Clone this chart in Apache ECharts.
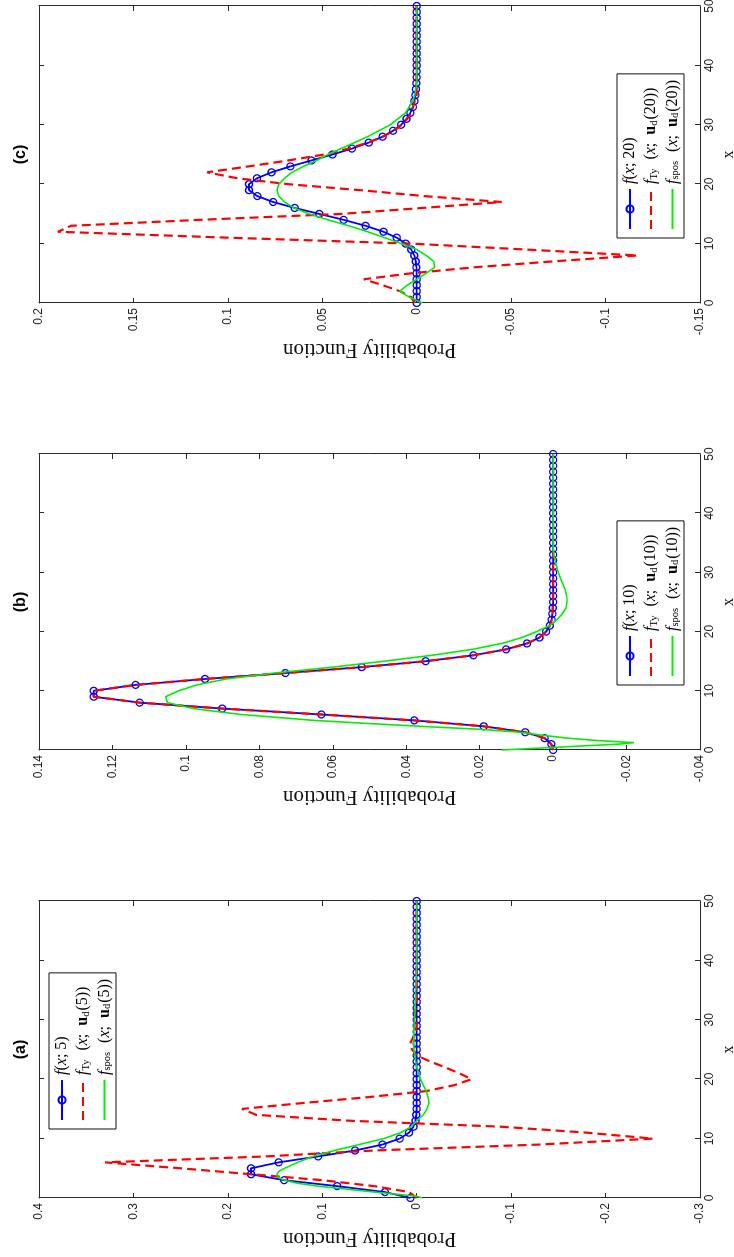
<!DOCTYPE html>
<html><head><meta charset="utf-8">
<style>
html,body{margin:0;padding:0;background:#fff;overflow:hidden;width:734px;height:1257px;}
#chart{position:absolute;left:0;top:0;width:1257px;height:734px;transform-origin:0 0;transform:translateY(1257px) rotate(-90deg);background:#fff;}
</style>
<script src="https://cdn.jsdelivr.net/npm/echarts@6/dist/echarts.min.js"></script>
</head><body><div id="chart"></div>
<script>
// ---------------- data ----------------
const panelTitles = ['(a)', '(b)', '(c)'];
const lambdas = ['5', '10', '20'];
const xName = 'x';
const yName = 'Probability Function';
const yMins = [-0.3, -0.04, -0.15];
const yMaxs = [0.4, 0.14, 0.2];
const yIntervals = [0.1, 0.02, 0.05];
const xMin = 0, xMax = 50, xInterval = 10;

// f(x; n) at x = 0..50
const blue5 = [0.0067,0.0337,0.0842,0.1404,0.1755,0.1755,0.1462,0.1044,0.0653,0.0363,0.0181,0.0082,0.0034,0.0013,0.0005,0.0002,
  0,0,0,0,0,0,0,0,0,0,0,0,0,0,0,0,0,0,0,0,0,0,0,0,0,0,0,0,0,0,0,0,0,0,0];
const blue10 = [0.0000,0.0005,0.0023,0.0076,0.0189,0.0378,0.0631,0.0901,0.1126,0.1251,0.1251,0.1137,0.0948,0.0729,0.0521,0.0347,
  0.0217,0.0128,0.0071,0.0037,0.0019,0.0009,0.0004,0.0002,0.0001,
  0,0,0,0,0,0,0,0,0,0,0,0,0,0,0,0,0,0,0,0,0,0,0,0,0,0];
const blue20 = [0,0,0,0,0,0.0001,0.0002,0.0005,0.0013,0.0029,0.0058,0.0106,0.0176,0.0271,0.0387,0.0516,0.0646,0.0760,0.0844,0.0888,
  0.0888,0.0846,0.0769,0.0669,0.0557,0.0446,0.0343,0.0254,0.0181,0.0125,0.0083,0.0054,0.0034,0.0020,0.0012,0.0007,0.0004,0.0002,0.0001,0.0001,
  0,0,0,0,0,0,0,0,0,0,0];

// f_Ty(x; u_d(n)) at x = 0..50
const red5 = [0.000,0.008,0.045,0.100,0.175,0.250,0.330,0.160,0.045,-0.130,-0.250,-0.180,-0.090,0.070,0.170,0.185,0.120,0.050,-0.010,-0.040,
  -0.058,-0.045,-0.030,-0.014,0.000,0.005,0.007,0.004,0.001,0.000,0.000,0.002,0.001,
  0,0,0,0,0,0,0,0,0,0,0,0,0,0,0,0,0,0];
const red10 = [0.0000,0.0005,0.0023,0.0076,0.0189,0.0378,0.0631,0.0901,0.1126,0.1251,0.1251,0.1137,0.0948,0.0729,0.0521,0.0347,
  0.0217,0.0128,0.0071,0.0037,0.0019,0.0009,0.0004,0.0002,0.0001,
  0,0,0,0,0,0,0,0,0,0,0,0,0,0,0,0,0,0,0,0,0,0,0,0,0,0];
const red20 = [0.001,0.003,0.009,0.018,0.028,0.003,-0.030,-0.072,-0.117,-0.058,0.003,0.100,0.190,0.183,0.115,0.040,-0.003,-0.045,-0.004,0.030,
  0.068,0.095,0.111,0.089,0.068,0.049,0.036,0.026,0.018,0.012,0.008,0.005,0.003,0.002,0.001,
  0,0,0,0,0,0,0,0,0,0,0,0,0,0,0,0];

// f_spos(x; u_d(n)) : x positions and values
const green5x = [0,0.3,0.7,1,1.5,2,2.5,3,3.5,4,4.5,5,6,7,8,9,10,11,12,13,14,15,16,17,18,19,20,21,22,23,25,28,31,35,40,50];
const green5y = [-0.006,0.000,0.025,0.045,0.075,0.105,0.127,0.140,0.147,0.148,0.146,0.140,0.126,0.110,0.087,0.061,0.035,0.017,0.006,0.000,
  -0.007,-0.011,-0.013,-0.012,-0.010,-0.007,-0.004,-0.002,0.000,0.001,0.003,0.003,0.002,0.001,0,0];
const green10x = [0,0.5,1,1.25,1.6,2,2.5,3,3.5,4,4.5,5,6,7,8,9,10,11,12,13,14,15,16,17,18,19,20,21,22,23,24,25,26,27,28,29,30,31,32,33,34,50];
const green10y = [0.014,-0.002,-0.018,-0.022,-0.012,-0.004,0.003,0.009,0.020,0.036,0.051,0.065,0.085,0.098,0.105,0.1055,0.102,0.097,0.089,0.076,
  0.060,0.046,0.033,0.022,0.014,0.0085,0.0045,0.001,-0.001,-0.0025,-0.0035,-0.0038,-0.0037,-0.0033,-0.0027,-0.002,-0.0014,-0.0009,-0.0005,-0.0002,0,0];
const green20x = [0,1,2,3,4,5,6,7,8,9,10,11,12,13,14,15,16,17,18,19,20,21,22,23,24,25,26,27,28,29,30,31,32,33,34,35,36,37,50];
const green20y = [-0.003,0.004,0.009,0.005,0.000,-0.005,-0.0095,-0.009,-0.005,0.000,0.008,0.017,0.026,0.036,0.047,0.057,0.065,0.070,0.073,0.074,
  0.073,0.070,0.066,0.060,0.053,0.047,0.040,0.033,0.026,0.020,0.014,0.010,0.006,0.004,0.002,0.001,0.0005,0,0];

const blues = [blue5, blue10, blue20];
const reds = [red5, red10, red20];
const greensX = [green5x, green10x, green20x];
const greensY = [green5y, green10y, green20y];

// ---------------- layout / style ----------------
const SERIF = "'Liberation Serif','DejaVu Serif',serif";
const SANS = "'Liberation Sans',Arial,sans-serif";
const AX = '#2b2b2b';
const CLEAR = 'rgba(0,0,0,0)';
const grids = [
  {left: 59, top: 39, width: 297, height: 661, outerBoundsMode: 'none', containLabel: false},
  {left: 507, top: 39, width: 296, height: 661, outerBoundsMode: 'none', containLabel: false},
  {left: 954, top: 39, width: 297, height: 661, outerBoundsMode: 'none', containLabel: false}
];
const legendPos = [{left: 128, top: 49}, {left: 572, top: 617}, {left: 1019, top: 617}];

const fmtY = v => String(+v.toFixed(4));
const xAxes = [], yAxes = [], series = [], legends = [], titles = [];
const legendText = {};

for (let i = 0; i < 3; i++) {
  const L = lambdas[i];
  const nB = 'f(x;' + L + ')', nR = 'fTy(x;ud(' + L + '))', nG = 'fspos(x;ud(' + L + '))';
  legendText[nB] = '{it|f}{rm|(}{it|x}{rm|; ' + L + ')}';
  legendText[nR] = '{it|f}{sub|Ty}{rm|  (}{it|x}{rm|;  }{bf|u}{sub|d}{rm|(' + L + '))}';
  legendText[nG] = '{it|f}{sub|spos}{rm|  (}{it|x}{rm|;  }{bf|u}{sub|d}{rm|(' + L + '))}';

  for (const top of [false, true]) {
    xAxes.push({
      type: 'value', gridIndex: i, position: top ? 'top' : 'bottom',
      min: xMin, max: xMax, interval: xInterval,
      axisLine: {show: true, onZero: false, lineStyle: {color: AX, width: 1}},
      axisTick: {show: true, inside: true, length: 5, lineStyle: {color: AX, width: 1}},
      axisLabel: {show: !top, margin: 4, color: '#222', fontSize: 12, fontFamily: SANS},
      splitLine: {show: false},
      name: top ? '' : xName, nameLocation: 'middle', nameGap: 21,
      nameTextStyle: {color: '#111', fontSize: 16, fontFamily: SERIF}
    });
  }
  for (const right of [false, true]) {
    yAxes.push({
      type: 'value', gridIndex: i, position: right ? 'right' : 'left',
      min: yMins[i], max: yMaxs[i], interval: yIntervals[i],
      axisLine: {show: true, onZero: false, lineStyle: {color: AX, width: 1}},
      axisTick: {show: true, inside: true, length: 5, lineStyle: {color: AX, width: 1}},
      axisLabel: {show: !right, margin: 5, color: '#222', fontSize: 12, fontFamily: SANS, formatter: fmtY},
      splitLine: {show: false},
      name: right ? '' : yName, nameLocation: 'middle', nameGap: 29,
      nameTextStyle: {color: '#111', fontSize: 21, fontFamily: SERIF}
    });
  }
  series.push({
    name: nB, type: 'line', xAxisIndex: 2 * i, yAxisIndex: 2 * i,
    data: blues[i].map((v, k) => [k, v]),
    symbol: 'circle', symbolSize: 7, showSymbol: true,
    lineStyle: {color: '#0000ff', width: 1.8},
    itemStyle: {color: CLEAR, borderColor: '#0000ff', borderWidth: 1.3},
    z: 2
  });
  series.push({
    name: nR, type: 'line', xAxisIndex: 2 * i, yAxisIndex: 2 * i,
    data: reds[i].map((v, k) => [k, v]),
    symbol: 'none',
    lineStyle: {color: '#ff0000', width: 2.2, type: [9, 5]},
    itemStyle: {color: CLEAR, borderWidth: 0},
    z: 3
  });
  series.push({
    name: nG, type: 'line', xAxisIndex: 2 * i, yAxisIndex: 2 * i,
    data: greensX[i].map((x, k) => [x, greensY[i][k]]),
    symbol: 'none',
    lineStyle: {color: '#00ee00', width: 1.6},
    itemStyle: {color: CLEAR, borderWidth: 0},
    z: 4
  });
  legends.push({
    show: true, orient: 'vertical', left: legendPos[i].left, top: legendPos[i].top,
    data: [nB, nR, nG], selectedMode: false,
    itemWidth: 40, itemHeight: 9, itemGap: 5,
    padding: [5, 6, 3, 8],
    borderColor: '#111', borderWidth: 1, backgroundColor: '#fff',
    formatter: name => legendText[name],
    textStyle: {
      fontFamily: SERIF, fontSize: 16, color: '#000',
      rich: {
        it: {fontFamily: SERIF, fontStyle: 'italic', fontSize: 16, color: '#000'},
        rm: {fontFamily: SERIF, fontSize: 16, color: '#000'},
        bf: {fontFamily: SERIF, fontWeight: 'bold', fontSize: 16, color: '#000'},
        sub: {fontFamily: SERIF, fontSize: 10.5, verticalAlign: 'bottom', padding: [6, 1, 0, 0], color: '#000'}
      }
    }
  });
  titles.push({
    text: panelTitles[i], left: grids[i].left + grids[i].width / 2, top: 13, textAlign: 'center', padding: 0,
    textStyle: {fontFamily: SANS, fontWeight: 'bold', fontSize: 16, color: '#000'}
  });
}

const chart = echarts.init(document.getElementById('chart'), null, {renderer: 'canvas'});
chart.setOption({
  animation: false,
  backgroundColor: '#fff',
  title: titles,
  grid: grids,
  xAxis: xAxes,
  yAxis: yAxes,
  legend: legends,
  series: series
});
</script>
</body></html>
